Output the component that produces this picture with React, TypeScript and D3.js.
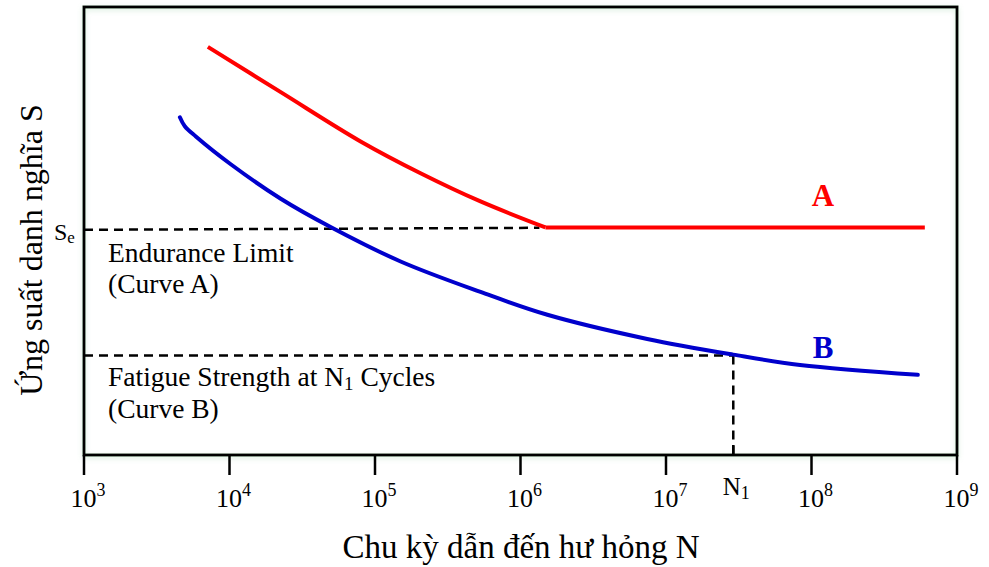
import React from "react";
import * as d3 from "d3";

const W = 989;
const H = 567;

// Curve A (material with endurance limit): cycles N, nominal stress S (relative units)
const curveA_N = [7100, 22500, 79600, 205600, 531000, 1483000];
const curveA_S = [91.1, 81.0, 70.0, 62.9, 56.6, 50.8];
const curveA_flatEndN = 601000000;

// Curve B (no endurance limit)
const curveB_N = [4560, 4930, 5870, 10200, 22500, 49500, 150000, 531000, 1530000, 7430000, 28900000, 83400000, 538000000];
const curveB_S = [75.4, 73.4, 71.1, 64.9, 57.2, 50.9, 43.2, 36.4, 31.3, 25.9, 22.4, 20.1, 17.9];

const Se = 50.6;
const N1 = 29000000;
const S_N1 = 22.2;

const tickExponents = [3, 4, 5, 6, 7, 8, 9];

const serif = "'Liberation Serif', 'Times New Roman', Times, serif";

export default function App() {
  const left = 84, right = 957, top = 7, bottom = 455;
  const x = d3.scaleLog().domain([1e3, 1e9]).range([left, right]);
  const y = d3.scaleLinear().domain([0, 100]).range([bottom, top]);

  const lineSmooth = d3
    .line<[number, number]>()
    .x((d) => x(d[0]))
    .y((d) => y(d[1]))
    .curve(d3.curveCatmullRom.alpha(0.5));
  const lineLin = d3
    .line<[number, number]>()
    .x((d) => x(d[0]))
    .y((d) => y(d[1]));

  const aPts = curveA_N.map((n, i) => [n, curveA_S[i]] as [number, number]);
  const aFlat: [number, number][] = [
    [curveA_N[curveA_N.length - 1], curveA_S[curveA_S.length - 1]],
    [curveA_flatEndN, curveA_S[curveA_S.length - 1]],
  ];
  const bPts = curveB_N.map((n, i) => [n, curveB_S[i]] as [number, number]);

  return (
    <svg
      width={W}
      height={H}
      style={{ position: "absolute", left: 0, top: 0, background: "#fff" }}
      fontFamily={serif}
    >
      <defs>
        <filter id="glow" x="-5%" y="-5%" width="110%" height="115%">
          <feDropShadow dx="0" dy="2" stdDeviation="2.5" floodColor="#8fcf9a" floodOpacity="0.35" />
        </filter>
      </defs>

      {/* Frame */}
      <rect
        x={left}
        y={top}
        width={right - left}
        height={bottom - top}
        fill="none"
        stroke="#000"
        strokeWidth={3}
        filter="url(#glow)"
      />

      {/* Dashed reference lines */}
      <line x1={left} x2={x(curveA_N[curveA_N.length - 1]) - 6} y1={y(Se) + 1.5} y2={y(Se) - 0.5}
        stroke="#000" strokeWidth={2.5} strokeDasharray="9,6" />
      <line x1={left} x2={x(N1)} y1={y(S_N1)} y2={y(S_N1)}
        stroke="#000" strokeWidth={2.5} strokeDasharray="9,6" />
      <line x1={x(N1)} x2={x(N1)} y1={y(S_N1)} y2={bottom}
        stroke="#000" strokeWidth={2.5} strokeDasharray="9,6" />

      {/* Curves */}
      <path d={lineSmooth(aPts) || ""} fill="none" stroke="#ff0000" strokeWidth={4} strokeLinecap="butt" />
      <path d={lineLin(aFlat) || ""} fill="none" stroke="#ff0000" strokeWidth={4} strokeLinecap="butt" />
      <path d={lineSmooth(bPts) || ""} fill="none" stroke="#0000cc" strokeWidth={4} strokeLinecap="round" />

      {/* Curve labels */}
      <text x={823} y={206} fill="#ff0000" fontFamily={serif} fontWeight="bold" fontSize={31} textAnchor="middle">A</text>
      <text x={823} y={358} fill="#0000cc" fontFamily={serif} fontWeight="bold" fontSize={31} textAnchor="middle">B</text>

      {/* Annotations */}
      <text x={108} y={262} fontFamily={serif} fontSize={27.5}>Endurance Limit</text>
      <text x={108} y={293} fontFamily={serif} fontSize={27.5}>(Curve A)</text>
      <text x={108} y={386} fontFamily={serif} fontSize={27.5}>
        Fatigue Strength at N<tspan fontSize={19} dy={4}>1</tspan><tspan dy={-4}> Cycles</tspan>
      </text>
      <text x={108} y={418} fontFamily={serif} fontSize={27.5}>(Curve B)</text>

      {/* Se label */}
      <text x={54} y={240} fontFamily={serif} fontSize={24}>
        S<tspan fontSize={17} dy={3}>e</tspan>
      </text>

      {/* X ticks */}
      {tickExponents.map((e) => (
        <g key={e}>
          <line x1={x(Math.pow(10, e))} x2={x(Math.pow(10, e))} y1={bottom} y2={bottom + 20} stroke="#000" strokeWidth={2.5} />
          <text x={x(Math.pow(10, e)) + 4} y={507} fontFamily={serif} fontSize={26} textAnchor="middle">
            10<tspan fontSize={18} dy={-11}>{e}</tspan>
          </text>
        </g>
      ))}
      {/* N1 tick (inward) */}
      <line x1={x(N1)} x2={x(N1)} y1={bottom - 10} y2={bottom} stroke="#000" strokeWidth={2.5} />
      <text x={x(N1) + 3} y={495} fontFamily={serif} fontSize={25} textAnchor="middle">
        N<tspan fontSize={18} dy={4}>1</tspan>
      </text>

      {/* Axis titles */}
      <text x={521} y={558} fontFamily={serif} fontSize={33} textAnchor="middle">Chu kỳ dẫn đến hư hỏng N</text>
      <text transform="translate(42,250) rotate(-90)" fontFamily={serif} fontSize={32} textAnchor="middle">Ứng suất danh nghĩa S</text>
    </svg>
  );
}
